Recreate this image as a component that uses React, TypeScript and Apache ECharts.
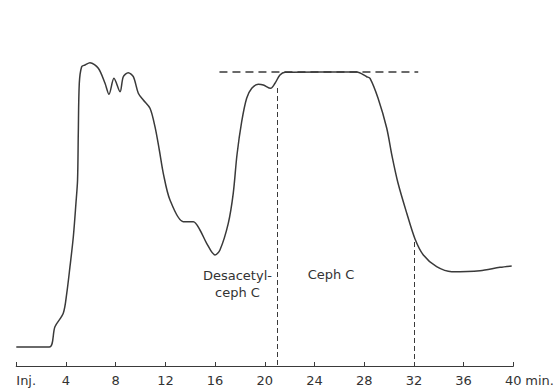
import React, { useEffect, useRef } from "react";
import * as echarts from "echarts";

// elution time (min) and detector signal (arbitrary units)
const times = [0, 2.66, 3.11, 3.78, 4.06, 4.32, 4.59, 4.8, 4.93, 4.99, 5.07, 5.26, 5.53, 5.93, 6.6, 7.14, 7.46, 7.86, 8.35, 8.61, 9.01, 9.42, 9.82, 10.22, 10.76, 11.16, 11.51, 11.83, 12.37, 13.44, 14.25, 14.78, 15.32, 15.99, 16.39, 17.06, 17.46, 17.76, 18.14, 18.54, 18.95, 19.48, 19.88, 20.47, 20.82, 21.22, 21.63, 24.5, 27.4, 28.2, 28.47, 29.11, 29.81, 30.24, 30.72, 31.42, 32.09, 32.76, 33.83, 35.04, 37.32, 38.93, 39.87];
const signal = [19, 19, 39.3, 52.7, 72.7, 99.3, 129.3, 162.7, 186, 233, 282.7, 299.3, 301, 303.3, 297.7, 282.7, 271.7, 287.7, 274.3, 289.3, 293.3, 289.3, 272.7, 266, 257.7, 239.3, 216, 192.7, 166, 144.3, 144.3, 136, 122.7, 111, 116, 142.7, 172.7, 211, 244.3, 267.7, 277.7, 281.7, 281, 277.7, 282.7, 291, 293.7, 294, 294, 289.3, 287.7, 268, 238, 210, 183, 153, 127, 111, 99.3, 94.3, 95.3, 98.7, 100];

const tickLabels = ["Inj.", "4", "8", "12", "16", "20", "24", "28", "32", "36", "40"];

// plateau (saturation) reference line
const plateauLevel = 294.3;
const plateauRange = [16.35, 32.35];
// fraction cut times and the signal level where each cut line starts
const cutTimes = [21, 32];
const cutTops = [278, 124];

// annotations: text anchored at [time, signal]
const annotationTexts = ["Desacetyl-", "ceph C", "Ceph C", "min."];
const annotationAnchors = [
  [17.8, 91],
  [17.8, 73.3],
  [25.33, 92],
];

export default function App() {
  const ref = useRef<HTMLDivElement>(null);
  useEffect(() => {
    if (!ref.current) return;
    const chart = echarts.init(ref.current, undefined, { renderer: "svg" });
    const font = "DejaVu Sans";
    const ink = "#3a3a3a";
    chart.setOption({
      animation: false,
      backgroundColor: "#ffffff",
      grid: { left: 16.3, right: 41.7, top: 46, bottom: 25 },
      xAxis: {
        type: "value",
        min: 0,
        max: 40,
        interval: 4,
        axisLine: { show: true, lineStyle: { color: ink, width: 1.2 } },
        axisTick: { show: true, inside: true, length: 4, lineStyle: { color: ink, width: 1 } },
        splitLine: { show: false },
        axisLabel: {
          color: "#333",
          fontFamily: font,
          fontSize: 13,
          margin: 8,
          showMinLabel: true,
          showMaxLabel: true,
          alignMinLabel: "left",
          formatter: (v: number) => tickLabels[Math.round(v / 4)] ?? "",
        },
      },
      yAxis: { type: "value", min: 0, max: 320, show: false, splitLine: { show: false } },
      series: [
        {
          type: "line",
          data: times.map((t, i) => [t, signal[i]]),
          showSymbol: false,
          symbol: "none",
          smooth: 0.3,
          lineStyle: { color: ink, width: 1.5 },
          silent: true,
          markLine: {
            silent: true,
            symbol: ["none", "none"],
            label: { show: false },
            data: [
              [
                { coord: [plateauRange[0], plateauLevel], lineStyle: { type: [8, 5], width: 1.6, color: ink } },
                { coord: [plateauRange[1], plateauLevel] },
              ],
              ...cutTimes.map((t, i) => [
                { coord: [t, cutTops[i]], lineStyle: { type: [5, 3], width: 1, color: ink } },
                { coord: [t, 1] },
              ]),
            ],
          },
        },
      ],
    });
    const toPx = (p: number[]) => chart.convertToPixel({ gridIndex: 0 }, p) as number[];
    const base = toPx([40, 0]);
    const graphics: any[] = annotationAnchors.map((a, i) => {
      const p = toPx(a);
      return {
        type: "text",
        x: p[0],
        y: p[1],
        style: {
          text: annotationTexts[i],
          fill: "#333",
          font: `13px '${font}'`,
          textAlign: "center",
          textVerticalAlign: "middle",
        },
      };
    });
    graphics.push({
      type: "text",
      x: base[0] + 12,
      y: base[1] + 8,
      style: {
        text: annotationTexts[3],
        fill: "#333",
        font: `13px '${font}'`,
        textAlign: "left",
        textVerticalAlign: "top",
      },
    });
    chart.setOption({ graphic: graphics });
    return () => chart.dispose();
  }, []);
  return (
    <div
      ref={ref}
      style={{ position: "fixed", left: 0, top: 0, width: 555, height: 391 }}
    />
  );
}
